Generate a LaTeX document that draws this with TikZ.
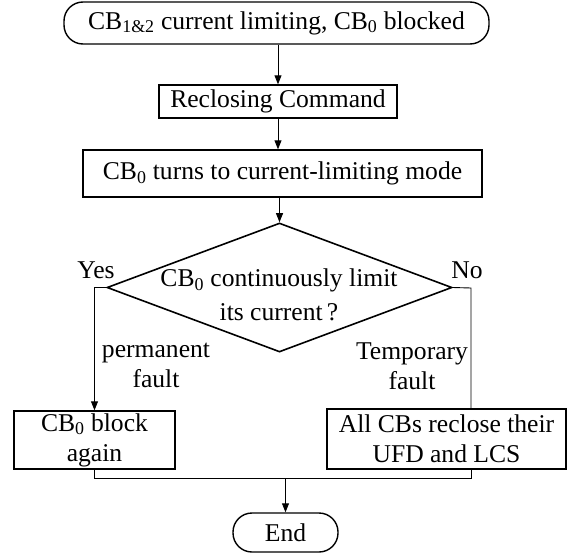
\documentclass[tikz,border=0pt]{standalone}
\usepackage{fontspec}
\setmainfont{Liberation Serif}
\usetikzlibrary{shapes.geometric,arrows.meta}
\begin{document}
\begin{tikzpicture}[x=1pt,y=-1pt,
  font=\fontsize{25.6}{30}\selectfont,
  box/.style={draw,line width=1.4pt,inner sep=0pt,align=center},
  term/.style={box,rounded corners=19pt},
  decision/.style={draw,line width=1.6pt,shape=diamond,inner sep=0pt},
  link/.style={line width=0.9pt},
  arr/.style={link,-{Triangle[length=9pt,width=7pt]}},
  lbl/.style={inner sep=0pt,align=center}]
\useasboundingbox (0,0) rectangle (572,554);

% process steps
\node[term, minimum width=425pt, minimum height=42pt] (start) at (276.5,23)
  {CB\textsubscript{1\&2} current limiting, CB\textsubscript{0} blocked};
\node[box, minimum width=238pt, minimum height=33pt] (recl) at (278,101.5)
  {Reclosing Command};
\node[box, minimum width=399pt, minimum height=47pt] (mode) at (282.5,173.5)
  {CB\textsubscript{0} turns to current-limiting mode};
\node[decision, minimum width=345pt, minimum height=129pt] (dec) at (279.5,287.5) {};
\node[lbl, font=\fontsize{25.6}{34}\selectfont] (dectext) at (279,295)
  {CB\textsubscript{0} continuously limit\\its current\,?};
\node[box, minimum width=161pt, minimum height=58pt] (blk) at (94.5,440)
  {CB\textsubscript{0} block\\again};
\node[box, minimum width=239pt, minimum height=60pt] (rcl) at (446.5,439)
  {All CBs reclose their\\UFD and LCS};
\node[term, minimum width=105pt, minimum height=39pt] (end) at (285.5,532.5) {End};

% branch labels
\node[lbl] (yes) at (96,270) {Yes};
\node[lbl] (no) at (467,270) {No};
\node[lbl] (perm) at (156,365) {permanent\\fault};
\node[lbl] (temp) at (412,366) {Temporary\\fault};

% helper points for the right column and the merge point
\coordinate (rcol) at (471,288);
\coordinate (jn) at (285.5,478);

% connectors
\draw[arr] (recl.north |- start.south) -- (recl.north);
\draw[arr] (recl.south) -- (recl.south |- mode.north);
\draw[arr] (dec.north |- mode.south) -- (dec.north);
\draw[arr] (dec.west) -| (blk.north);
\draw[link] (dec.east) -- (rcol) -- (rcol |- rcl.north);
\draw[link] (blk.south) |- (jn);
\draw[link] (rcol |- rcl.south) |- (jn);
\draw[arr] (jn) -- (end.north);
\end{tikzpicture}
\end{document}
